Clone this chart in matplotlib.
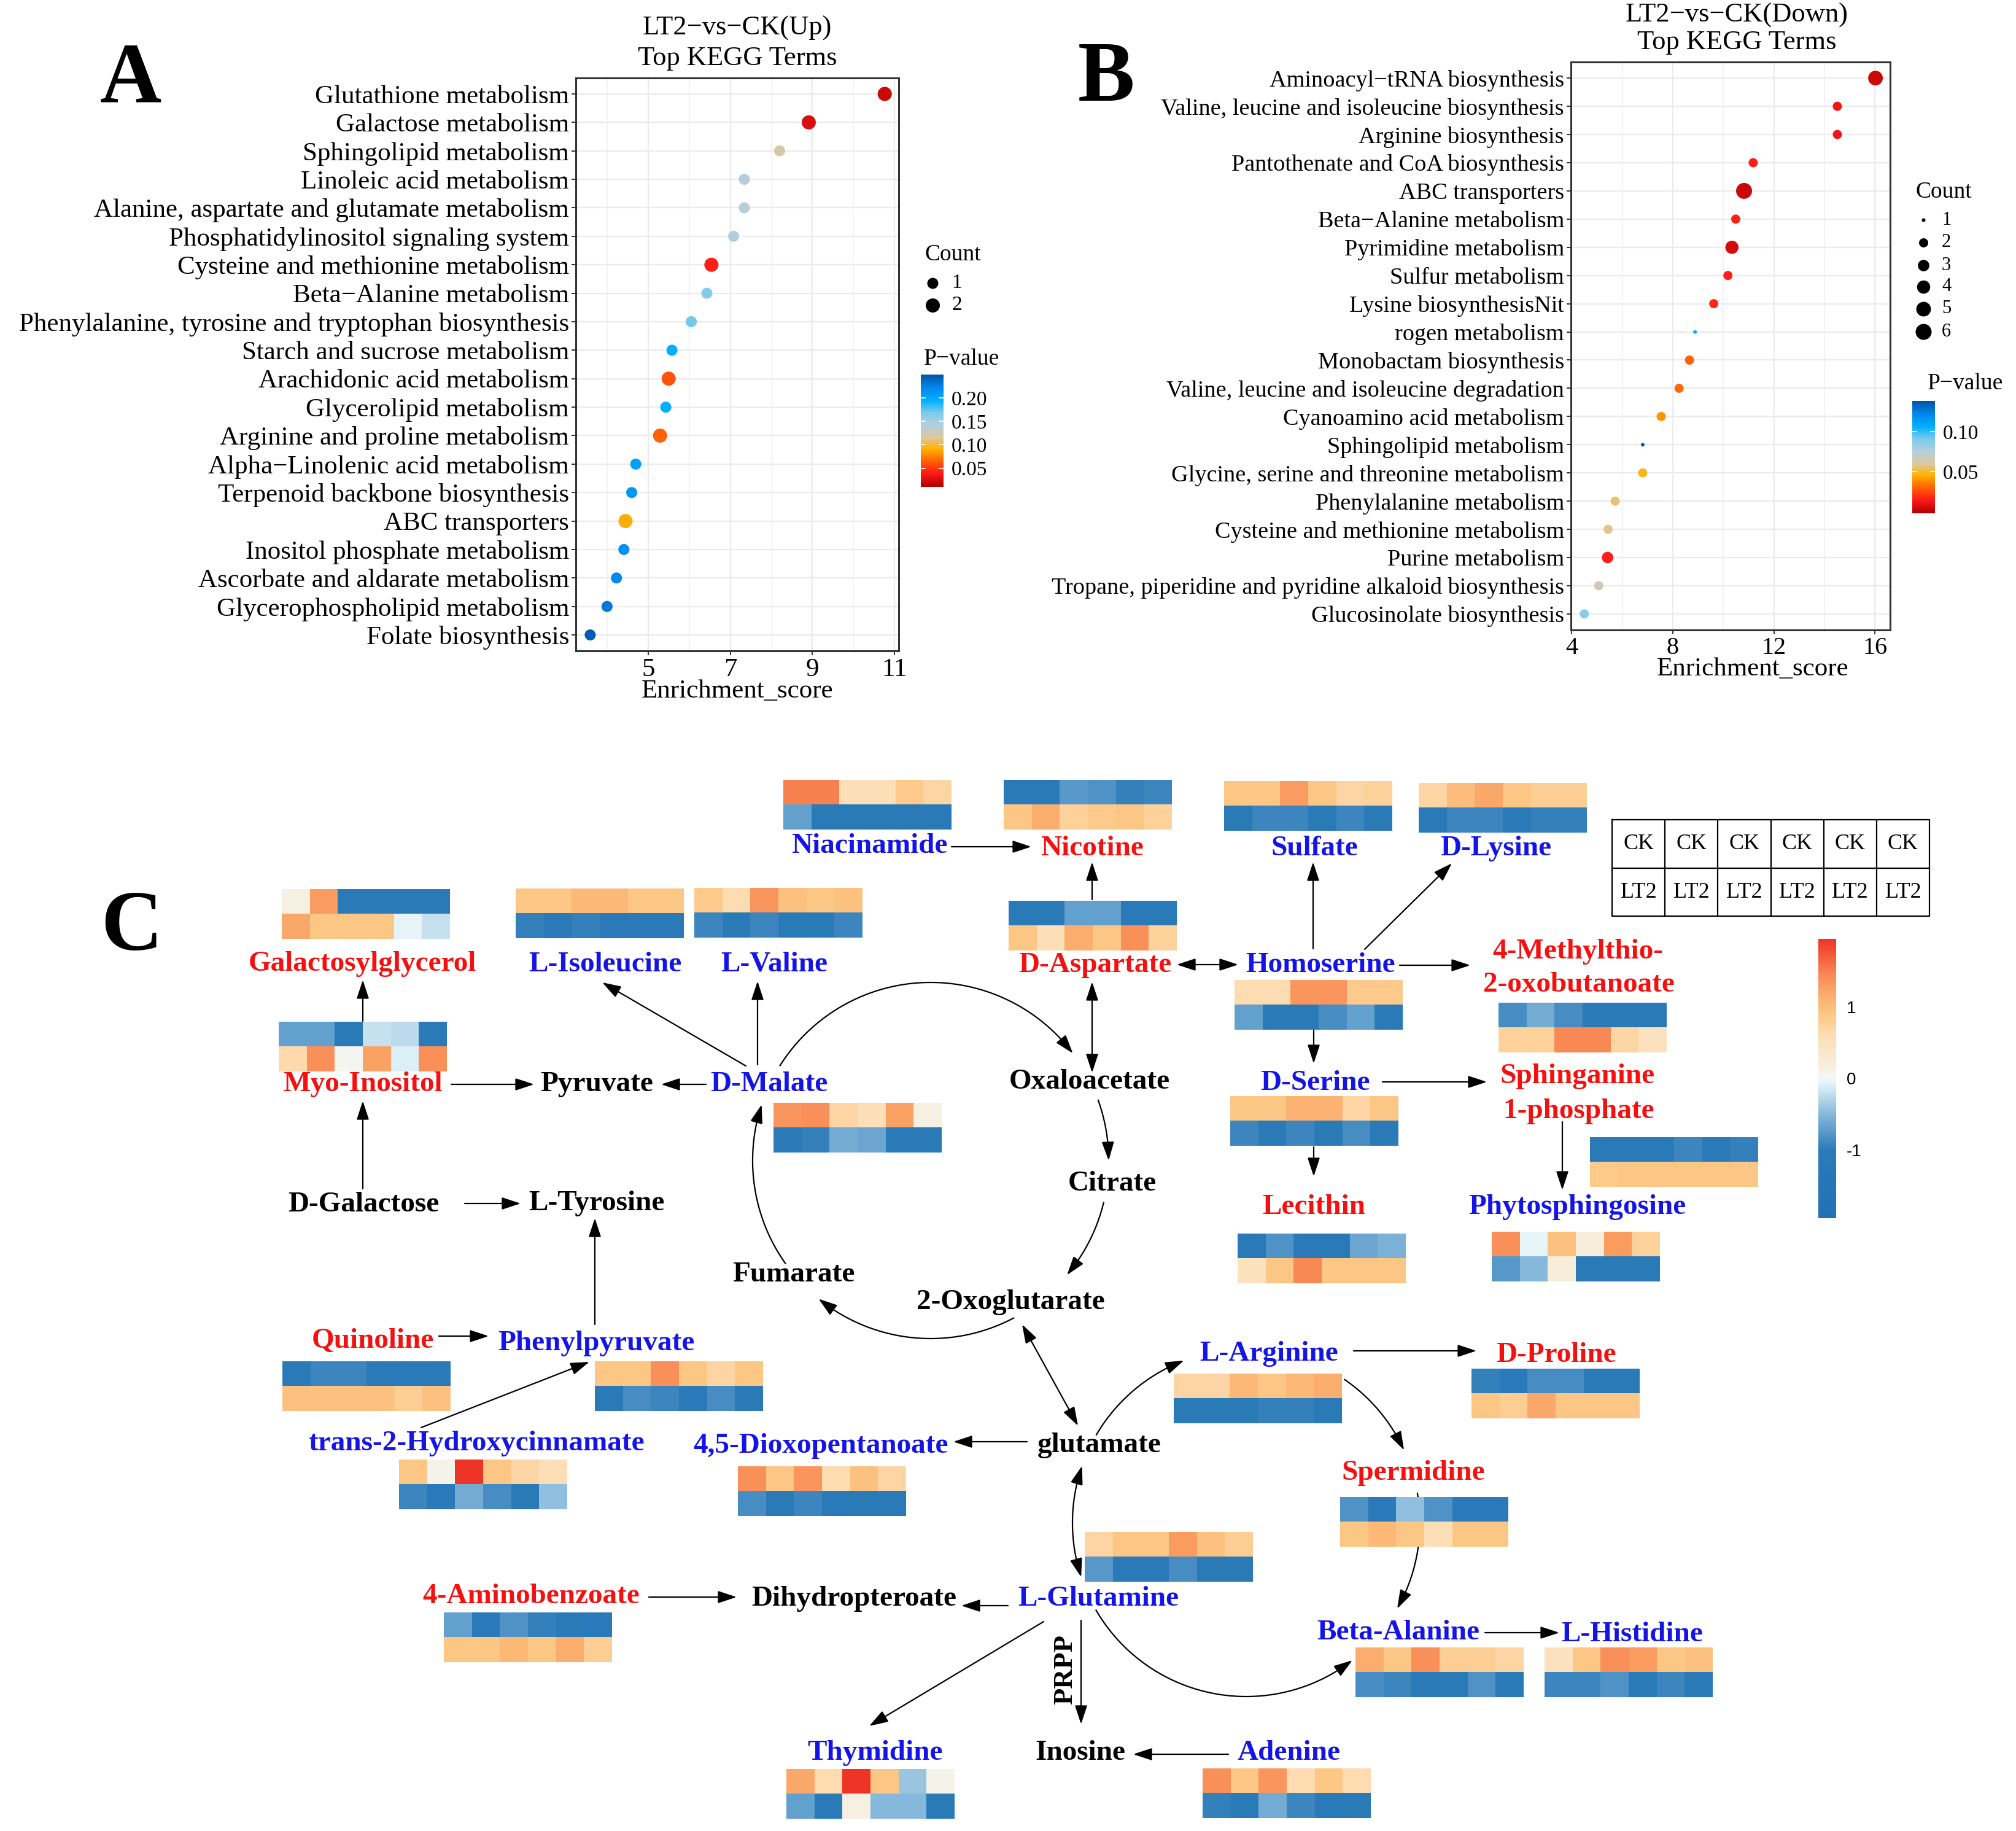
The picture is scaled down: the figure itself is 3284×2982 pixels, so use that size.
import numpy as np
import matplotlib
matplotlib.use("Agg")
import matplotlib.pyplot as plt
from matplotlib.colors import LinearSegmentedColormap, Normalize
from matplotlib.cm import ScalarMappable

# ---------------- Panel A data (LT2-vs-CK Up) ----------------
termsA = ["Glutathione metabolism", "Galactose metabolism", "Sphingolipid metabolism",
          "Linoleic acid metabolism", "Alanine, aspartate and glutamate metabolism",
          "Phosphatidylinositol signaling system", "Cysteine and methionine metabolism",
          "Beta\u2212Alanine metabolism", "Phenylalanine, tyrosine and tryptophan biosynthesis",
          "Starch and sucrose metabolism", "Arachidonic acid metabolism", "Glycerolipid metabolism",
          "Arginine and proline metabolism", "Alpha\u2212Linolenic acid metabolism",
          "Terpenoid backbone biosynthesis", "ABC transporters", "Inositol phosphate metabolism",
          "Ascorbate and aldarate metabolism", "Glycerophospholipid metabolism", "Folate biosynthesis"]
scoreA = [10.76, 8.91, 8.20, 7.34, 7.34, 7.08, 6.54, 6.43, 6.05, 5.58,
          5.50, 5.43, 5.29, 4.70, 4.60, 4.45, 4.41, 4.23, 4.00, 3.59]
pvalA = [0.020, 0.025, 0.120, 0.140, 0.140, 0.145, 0.040, 0.165, 0.170, 0.195,
         0.060, 0.195, 0.065, 0.205, 0.210, 0.090, 0.215, 0.220, 0.230, 0.245]
countA = [2, 2, 1, 1, 1, 1, 2, 1, 1, 1, 2, 1, 2, 1, 1, 2, 1, 1, 1, 1]
pticksA = [0.05, 0.10, 0.15, 0.20]

# ---------------- Panel B data (LT2-vs-CK Down) ----------------
termsB = ["Aminoacyl\u2212tRNA biosynthesis", "Valine, leucine and isoleucine biosynthesis",
          "Arginine biosynthesis", "Pantothenate and CoA biosynthesis", "ABC transporters",
          "Beta\u2212Alanine metabolism", "Pyrimidine metabolism", "Sulfur metabolism",
          "Lysine biosynthesisNit", "rogen metabolism", "Monobactam biosynthesis",
          "Valine, leucine and isoleucine degradation", "Cyanoamino acid metabolism",
          "Sphingolipid metabolism", "Glycine, serine and threonine metabolism",
          "Phenylalanine metabolism", "Cysteine and methionine metabolism", "Purine metabolism",
          "Tropane, piperidine and pyridine alkaloid biosynthesis", "Glucosinolate biosynthesis"]
scoreB = [16.02, 14.51, 14.51, 11.18, 10.82, 10.49, 10.34, 10.18, 9.62, 8.88,
          8.66, 8.25, 7.54, 6.81, 6.81, 5.72, 5.44, 5.42, 5.07, 4.50]
pvalB = [0.004, 0.012, 0.012, 0.016, 0.004, 0.016, 0.006, 0.016, 0.018, 0.108,
         0.030, 0.032, 0.040, 0.136, 0.048, 0.056, 0.058, 0.016, 0.064, 0.087]
countB = [5, 2, 2, 2, 6, 2, 4, 2, 2, 1, 2, 2, 2, 1, 2, 2, 2, 3, 2, 2]
pticksB = [0.05, 0.10]

# ---------------- Panel C heatmap data (row 1 = CK, row 2 = LT2) ----------------
hm_niacinamide = [[1.5, 1.5, 0.55, 0.55, 0.85, 0.7], [-0.7, -1.0, -1.0, -1.0, -1.05, -1.0]]
hm_nicotine = [[-1.0, -1.0, -0.75, -0.8, -0.95, -0.9], [0.9, 1.15, 0.75, 0.85, 0.9, 0.75]]
hm_sulfate = [[0.9, 0.9, 1.3, 0.9, 0.7, 0.75], [-1.05, -0.9, -0.9, -1.0, -0.9, -1.0]]
hm_d_lysine = [[0.7, 1.0, 1.2, 0.9, 0.8, 0.8], [-1.0, -0.9, -0.9, -1.0, -0.95, -0.95]]
hm_galactosylglycerol = [[0.15, 1.3, -1.05, -1.05, -1.05, -1.05], [1.2, 0.9, 0.9, 0.9, -0.05, -0.2]]
hm_l_isoleucine = [[0.9, 0.9, 1.05, 1.05, 0.9, 0.9], [-0.95, -1.05, -0.95, -1.1, -1.05, -1.05]]
hm_l_valine = [[0.85, 0.6, 1.35, 0.95, 0.9, 0.95], [-0.9, -1.0, -0.9, -1.0, -1.0, -0.9]]
hm_myo_inositol = [[-0.7, -0.7, -1.05, -0.2, -0.25, -1.05], [0.65, 1.4, 0.05, 1.25, -0.1, 1.4]]
hm_d_malate = [[1.35, 1.4, 0.7, 0.55, 1.25, 0.15], [-1.05, -0.95, -0.6, -0.65, -1.05, -1.05]]
hm_d_aspartate = [[-1.05, -1.05, -0.7, -0.7, -1.05, -1.05], [0.9, 0.55, 1.15, 0.9, 1.4, 0.75]]
hm_homoserine = [[0.6, 0.6, 1.35, 1.35, 0.85, 0.85], [-0.7, -1.05, -1.05, -0.85, -0.7, -1.05]]
hm_methylthio = [[-0.85, -0.6, -0.85, -1.05, -1.05, -1.05], [0.75, 0.75, 1.45, 1.45, 0.7, 0.5]]
hm_d_serine = [[0.9, 0.9, 1.1, 1.1, 0.7, 0.9], [-0.9, -1.05, -0.9, -1.0, -0.85, -1.05]]
hm_sphinganine = [[-1.05, -1.05, -1.05, -0.9, -1.05, -0.95], [0.85, 0.9, 0.9, 0.9, 0.9, 0.9]]
hm_lecithin = [[-1.05, -0.8, -1.05, -1.05, -0.65, -0.55], [0.5, 0.9, 1.45, 0.9, 0.9, 0.9]]
hm_phytosphingosine = [[1.4, -0.05, 0.95, 0.2, 1.3, 0.75], [-0.75, -0.5, 0.2, -1.05, -1.0, -1.05]]
hm_quinoline = [[-1.05, -0.9, -0.9, -1.05, -1.05, -1.05], [0.95, 0.95, 0.95, 0.95, 0.8, 0.95]]
hm_phenylpyruvate = [[0.9, 0.9, 1.4, 0.9, 0.7, 0.9], [-1.05, -0.85, -0.9, -1.1, -0.85, -1.05]]
hm_hydroxycinnamate = [[0.9, 0.1, 1.95, 0.9, 0.7, 0.55], [-0.9, -1.1, -0.6, -0.85, -1.05, -0.45]]
hm_dioxopentanoate = [[1.4, 0.9, 1.35, 0.6, 0.95, 0.7], [-0.85, -1.05, -0.9, -1.1, -1.0, -1.05]]
hm_aminobenzoate = [[-0.7, -1.1, -0.8, -0.95, -1.0, -1.1], [0.9, 0.9, 1.05, 0.9, 1.15, 0.8]]
hm_thymidine = [[1.2, 0.6, 1.95, 0.9, -0.4, 0.1], [-0.7, -1.1, 0.15, -0.5, -0.5, -1.05]]
hm_l_arginine = [[0.7, 0.7, 1.05, 0.9, 1.05, 1.15], [-1.05, -1.0, -1.05, -0.95, -0.95, -1.05]]
hm_d_proline = [[-0.95, -1.1, -0.85, -0.85, -1.05, -1.05], [0.9, 0.8, 1.2, 0.9, 0.9, 0.9]]
hm_spermidine = [[-0.8, -1.1, -0.45, -0.8, -1.1, -1.1], [0.9, 1.05, 0.9, 0.55, 0.9, 0.9]]
hm_l_glutamine = [[0.7, 0.9, 0.9, 1.3, 0.95, 0.8], [-0.75, -1.1, -1.1, -0.85, -1.05, -1.05]]
hm_beta_alanine = [[1.15, 0.9, 1.4, 0.8, 0.8, 0.7], [-0.85, -0.9, -1.05, -1.05, -0.8, -1.05]]
hm_l_histidine = [[0.5, 0.9, 1.4, 1.3, 0.9, 0.95], [-0.9, -0.9, -0.8, -1.05, -0.9, -1.05]]
hm_adenine = [[1.4, 0.9, 1.35, 0.6, 0.9, 0.6], [-0.95, -1.05, -0.6, -0.9, -1.1, -1.05]]
group_top = ["CK"] * 6
group_bottom = ["LT2"] * 6
zticks = [-1, 0, 1]

# ---------------- figure setup ----------------
W, H, DPI = 3284, 2982, 100
PT = 72.0 / DPI
plt.rcParams['font.family'] = ['Liberation Serif', 'DejaVu Serif']
fig = plt.figure(figsize=(W / DPI, H / DPI), dpi=DPI)
fig.patch.set_facecolor('white')


def px_axes(x0, y0, x1, y1):
    return fig.add_axes([x0 / W, 1 - y1 / H, (x1 - x0) / W, (y1 - y0) / H])


ov = fig.add_axes([0, 0, 1, 1])
ov.set_zorder(0)
ov.patch.set_alpha(0)
ov.axis('off')

pcmap = LinearSegmentedColormap.from_list('pv', [
    (0.00, '#B00000'), (0.12, '#FF1A1A'), (0.25, '#FF7000'), (0.34, '#FFB200'),
    (0.44, '#DCC8A0'), (0.55, '#B4CEDC'), (0.66, '#7CCBEA'), (0.77, '#00B0FF'),
    (0.88, '#0088EE'), (1.00, '#0055A5')])

hnorm = Normalize(-1.95, 1.95)
hcmap = LinearSegmentedColormap.from_list('hm', [
    (hnorm(-1.95), '#2171B5'), (hnorm(-1.0), '#2C7BB9'), (hnorm(-0.5), '#86B8DB'),
    (hnorm(-0.1), '#DCEFF7'), (hnorm(0.0), '#F2F8F8'), (hnorm(0.2), '#F7EEDB'),
    (hnorm(0.6), '#FDDDB3'), (hnorm(0.9), '#FDC785'), (hnorm(1.2), '#FBA96A'),
    (hnorm(1.45), '#F98A55'), (hnorm(1.95), '#EE3427')])


def diamA(c):
    return 18 + 5 * (c - 1)


def diamB(c):
    return 6 + 20 * np.sqrt((c - 1) / 5.0)


def dotplot(box, terms, score, pval, count, norm, diam, xlim, major, minor, fs_y, fs_x, margin):
    ax = px_axes(*box)
    ax.set_zorder(2)
    n = len(terms)
    y = np.arange(n)
    s = [(diam(c) * PT) ** 2 for c in count]
    ax.scatter(score, y, s=s, c=pval, cmap=pcmap, norm=norm, linewidths=0, zorder=3)
    ax.set_xlim(*xlim)
    ax.set_ylim(n - 1 + margin, -margin)
    ax.set_yticks(y)
    ax.set_yticklabels(terms, fontsize=fs_y)
    ax.set_xticks(major)
    ax.set_xticks(minor, minor=True)
    ax.set_xticklabels([str(v) for v in major], fontsize=fs_x)
    ax.grid(True, which='major', color='#EBEBEB', lw=1.6)
    ax.grid(True, which='minor', axis='x', color='#F0F0F0', lw=1.1)
    ax.set_axisbelow(True)
    ax.tick_params(axis='both', which='major', length=5, width=1.4, color='#333333', pad=3)
    ax.tick_params(which='minor', length=0)
    for sp in ax.spines.values():
        sp.set_color('#333333')
        sp.set_linewidth(2.2)
    return ax


def pbar(box, norm, ticks, fs):
    cax = px_axes(*box)
    cb = fig.colorbar(ScalarMappable(norm=norm, cmap=pcmap), cax=cax)
    cb.outline.set_visible(False)
    cb.set_ticks(ticks)
    cb.set_ticklabels(['%.2f' % t for t in ticks])
    cax.tick_params(length=0, labelsize=fs, pad=9)
    for t in ticks:
        cax.axhline(t, 0, 0.2, color='white', lw=1.2)
        cax.axhline(t, 0.8, 1, color='white', lw=1.2)
    return cax


# ---------------- Panel A ----------------
normA = Normalize(0.01, 0.25)
dotplot((938, 127, 1464, 1060), termsA, scoreA, pvalA, countA, normA, diamA,
        (3.24, 11.1), [5, 7, 9, 11], [4, 6, 8, 10], 31, 31, 0.56)
ov.text(1201, 46, "LT2\u2212vs\u2212CK(Up)", fontsize=32, ha='center', va='center')
ov.text(1201, 95, "Top KEGG Terms", fontsize=32, ha='center', va='center')
ov.text(1201, 1126, "Enrichment_score", fontsize=31, ha='center', va='center')
ov.text(1507, 415, "Count", fontsize=27, ha='left', va='center')
for c, yy in zip([1, 2], [461, 497]):
    ov.scatter([1519], [yy], s=(diamA(c) * PT) ** 2, color='black', linewidths=0)
    ov.text(1550, yy, str(c), fontsize=24, ha='left', va='center')
ov.text(1505, 585, "P\u2212value", fontsize=27, ha='left', va='center')
pbar((1500, 610, 1537, 793), normA, pticksA, 24)

# ---------------- Panel B ----------------
normB = Normalize(-0.002, 0.1385)
dotplot((2559, 101, 3079, 1026), termsB, scoreB, pvalB, countB, normB, diamB,
        (3.97, 16.6), [4, 8, 12, 16], [6, 10, 14], 27.5, 29, 0.57)
ov.text(2829, 25, "LT2\u2212vs\u2212CK(Down)", fontsize=32, ha='center', va='center')
ov.text(2829, 69, "Top KEGG Terms", fontsize=32, ha='center', va='center')
ov.text(2855, 1090, "Enrichment_score", fontsize=31, ha='center', va='center')
ov.text(3120, 313, "Count", fontsize=27, ha='left', va='center')
for c, yy in zip(range(1, 7), [358, 395, 432, 467, 503, 540]):
    ov.scatter([3133], [yy], s=(diamB(c) * PT) ** 2, color='black', linewidths=0)
    ov.text(3163, yy, str(c), fontsize=22, ha='left', va='center')
ov.text(3140, 625, "P\u2212value", fontsize=27, ha='left', va='center')
pbar((3115, 653, 3152, 836), normB, pticksB, 24)

# panel letters
ov.text(213, 133, "A", fontsize=100, fontweight='bold', ha='center', va='center')
ov.text(1802, 131, "B", fontsize=100, fontweight='bold', ha='center', va='center')
ov.text(214, 1514, "C", fontsize=100, fontweight='bold', ha='center', va='center')

# ---------------- Panel C ----------------
RED, BLUE, BLK = '#F51010', '#1414E6', 'black'
LW = 1.6
HEAD = '-|>,head_length=0.85,head_width=0.28'
DHEAD = '<|-|>,head_length=0.85,head_width=0.28'


def arrow(p0, p1, style=HEAD, rad=0.0):
    ov.annotate('', xy=p1, xytext=p0, xycoords='data', textcoords='data',
                arrowprops=dict(arrowstyle=style, mutation_scale=22, lw=LW, color='black',
                                shrinkA=0, shrinkB=0, connectionstyle='arc3,rad=%g' % rad),
                zorder=2)


def circ_arrow(center, r, a0, a1, both=False):
    t = np.radians(np.linspace(a0, a1, 120))
    xs = center[0] + r * np.cos(t)
    ys = center[1] - r * np.sin(t)
    seg = len(t)
    step = abs(a1 - a0) / (seg - 1)
    k = max(2, int(round(np.degrees(24.0 / r) / step)))
    i0 = k if both else 0
    ov.plot(xs[i0:seg - k + 1], ys[i0:seg - k + 1], color='black', lw=LW, zorder=2,
            solid_capstyle='butt')
    arrow((xs[-1 - k], ys[-1 - k]), (xs[-1], ys[-1]))
    if both:
        arrow((xs[k], ys[k]), (xs[0], ys[0]))


# upper (TCA-like) cycle
C1, R1 = (1516, 1890), 290
circ_arrow(C1, R1, 148, 37)
circ_arrow(C1, R1, 20, 0)
circ_arrow(C1, R1, -13.5, -40)
circ_arrow(C1, R1, -62, -129)
circ_arrow(C1, R1, 215.5, 161.7)
# lower cycle
C2, R2 = (2030, 2480), 283
circ_arrow(C2, R2, 149.8, 111)
circ_arrow(C2, R2, 55.7, 24.7)
circ_arrow(C2, R2, 10, -29.6)
circ_arrow(C2, R2, 210, 307.7)
circ_arrow(C2, R2, 160.9, 198.2, both=True)

straight = [
    ((1550, 1379), (1680, 1379), HEAD), ((1779, 1465), (1779, 1404), HEAD),
    ((2139, 1545), (2139, 1404), HEAD), ((2223, 1546), (2365, 1406), HEAD),
    ((1917, 1571), (2017, 1571), DHEAD), ((2280, 1572), (2395, 1572), HEAD),
    ((1779, 1599), (1779, 1747), DHEAD), ((2140, 1678), (2140, 1732), HEAD),
    ((2252, 1762), (2422, 1762), HEAD), ((2140, 1868), (2140, 1916), HEAD),
    ((2545, 1827), (2545, 1938), HEAD), ((1150, 1766), (1077, 1766), HEAD),
    ((735, 1766), (870, 1766), HEAD), ((591, 1663), (591, 1596), HEAD),
    ((591, 1936), (591, 1793), HEAD), ((1215, 1736), (981, 1600), HEAD),
    ((1234, 1734), (1234, 1598), HEAD), ((757, 1960), (848, 1960), HEAD),
    ((969, 2157), (969, 1984), HEAD), ((715, 2176), (796, 2176), HEAD),
    ((686, 2325), (960, 2218), HEAD), ((1673, 2348), (1553, 2348), HEAD),
    ((1665, 2157), (1756, 2322), DHEAD), ((2205, 2200), (2405, 2200), HEAD),
    ((2419, 2659), (2540, 2659), HEAD), ((1642, 2615), (1566, 2615), HEAD),
    ((1057, 2601), (1200, 2601), HEAD), ((1700, 2641), (1416, 2811), HEAD),
    ((1761, 2639), (1761, 2808), HEAD), ((2001, 2857), (1846, 2857), HEAD),
]
for p0, p1, st in straight:
    arrow(p0, p1, st)

# heatmaps
HW, HH = 274, 81
hm_layout = [
    (hm_niacinamide, 1276, 1270), (hm_nicotine, 1635, 1270), (hm_sulfate, 1994, 1272),
    (hm_d_lysine, 2311, 1275), (hm_galactosylglycerol, 459, 1448), (hm_l_isoleucine, 840, 1447),
    (hm_l_valine, 1131, 1446), (hm_myo_inositol, 454, 1664), (hm_d_malate, 1260, 1796),
    (hm_d_aspartate, 1643, 1467), (hm_homoserine, 2011, 1596), (hm_methylthio, 2441, 1633),
    (hm_d_serine, 2004, 1785), (hm_sphinganine, 2590, 1852), (hm_lecithin, 2016, 2009),
    (hm_phytosphingosine, 2430, 2006), (hm_quinoline, 460, 2217), (hm_phenylpyruvate, 969, 2217),
    (hm_hydroxycinnamate, 650, 2377), (hm_dioxopentanoate, 1202, 2388),
    (hm_aminobenzoate, 723, 2626), (hm_thymidine, 1281, 2881), (hm_l_arginine, 1912, 2237),
    (hm_d_proline, 2397, 2229), (hm_spermidine, 2183, 2438), (hm_l_glutamine, 1767, 2495),
    (hm_beta_alanine, 2208, 2683), (hm_l_histidine, 2516, 2683), (hm_adenine, 1959, 2880),
]
for data, x0, y0 in hm_layout:
    ov.imshow(np.array(data), cmap=hcmap, norm=hnorm, extent=(x0, x0 + HW, y0 + HH, y0),
              aspect='auto', interpolation='nearest', zorder=3)

# labels
labels = [
    ("Niacinamide", 1416, 1378, BLUE), ("Nicotine", 1779, 1382, RED),
    ("Sulfate", 2141, 1382, BLUE), ("D-Lysine", 2437, 1382, BLUE),
    ("Galactosylglycerol", 590, 1570, RED), ("L-Isoleucine", 986, 1571, BLUE),
    ("L-Valine", 1261, 1571, BLUE), ("D-Aspartate", 1784, 1572, RED),
    ("Homoserine", 2151, 1572, BLUE), ("4-Methylthio-", 2570, 1550, RED),
    ("2-oxobutanoate", 2572, 1604, RED), ("Myo-Inositol", 591, 1766, RED),
    ("Pyruvate", 972, 1766, BLK), ("D-Malate", 1253, 1766, BLUE),
    ("Oxaloacetate", 1775, 1762, BLK), ("D-Serine", 2142, 1764, BLUE),
    ("Sphinganine", 2570, 1753, RED), ("1-phosphate", 2572, 1810, RED),
    ("Citrate", 1812, 1928, BLK), ("D-Galactose", 592, 1962, BLK),
    ("L-Tyrosine", 972, 1960, BLK), ("Lecithin", 2140, 1966, RED),
    ("Phytosphingosine", 2569, 1966, BLUE), ("Fumarate", 1293, 2076, BLK),
    ("2-Oxoglutarate", 1646, 2121, BLK), ("Quinoline", 607, 2184, RED),
    ("Phenylpyruvate", 971, 2188, BLUE), ("L-Arginine", 2067, 2205, BLUE),
    ("D-Proline", 2535, 2207, RED), ("trans-2-Hydroxycinnamate", 776, 2351, BLUE),
    ("4,5-Dioxopentanoate", 1337, 2355, BLUE), ("glutamate", 1791, 2354, BLK),
    ("Spermidine", 2302, 2399, RED), ("4-Aminobenzoate", 865, 2600, RED),
    ("Dihydropteroate", 1391, 2604, BLK), ("L-Glutamine", 1789, 2604, BLUE),
    ("Beta-Alanine", 2278, 2659, BLUE), ("L-Histidine", 2659, 2662, BLUE),
    ("Thymidine", 1426, 2855, BLUE), ("Inosine", 1760, 2855, BLK),
    ("Adenine", 2100, 2855, BLUE),
]
for txt, x, y, col in labels:
    ov.text(x, y, txt, fontsize=34, fontweight='bold', color=col, ha='center', va='center',
            zorder=4)
ov.text(1735, 2719, "PRPP", fontsize=32, fontweight='bold', color='black', rotation=90,
        ha='center', va='center', zorder=4)

# CK / LT2 table
tx0, tx1, ty0, ty1, tym = 2626, 3143, 1335, 1492, 1414
ov.plot([tx0, tx1, tx1, tx0, tx0], [ty0, ty0, ty1, ty1, ty0], color='black', lw=1.6, zorder=4)
ov.plot([tx0, tx1], [tym, tym], color='black', lw=1.6, zorder=4)
cw = (tx1 - tx0) / 6.0
for i in range(1, 6):
    ov.plot([tx0 + i * cw, tx0 + i * cw], [ty0, ty1], color='black', lw=1.6, zorder=4)
for i, (a, b) in enumerate(zip(group_top, group_bottom)):
    xc = tx0 + (i + 0.5) * cw
    ov.text(xc, (ty0 + tym) / 2, a, fontsize=26, ha='center', va='center', zorder=4)
    ov.text(xc, (tym + ty1) / 2, b, fontsize=26, ha='center', va='center', zorder=4)

# heatmap colour bar
zax = px_axes(2962, 1529, 2991, 1984)
zcb = fig.colorbar(ScalarMappable(norm=hnorm, cmap=hcmap), cax=zax)
zcb.outline.set_visible(False)
zcb.set_ticks(zticks)
zcb.set_ticklabels([str(t) for t in zticks])
zax.tick_params(length=0, labelsize=20, pad=12)
for lab in zax.get_yticklabels():
    lab.set_family(['Liberation Sans', 'DejaVu Sans'])

ov.set_xlim(0, W)
ov.set_ylim(H, 0)

fig.savefig("out.png", dpi=DPI, facecolor='white')
